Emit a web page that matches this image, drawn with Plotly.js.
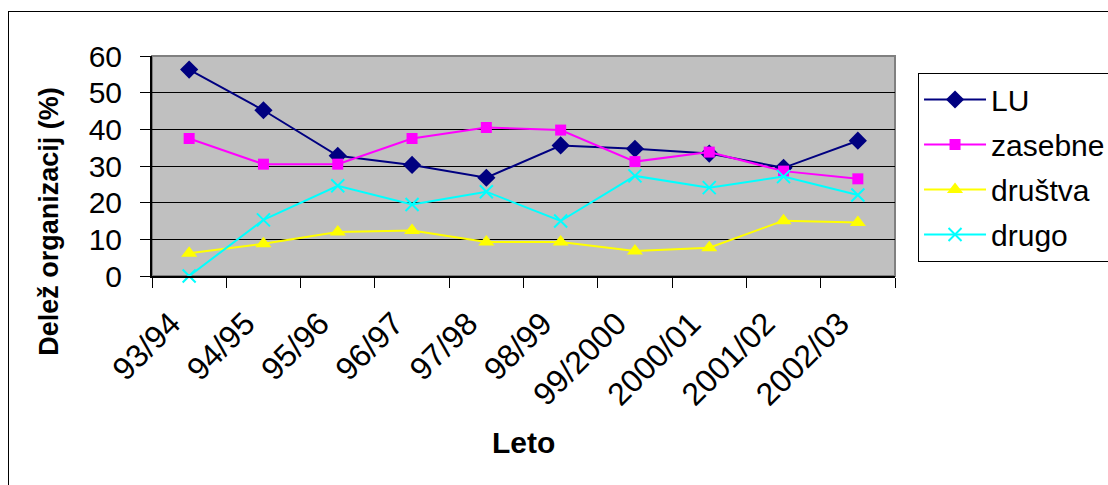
<!DOCTYPE html>
<html>
<head>
<meta charset="utf-8">
<script src="https://cdn.plot.ly/plotly-3.0.1.min.js"></script>
<style>
  html, body { margin: 0; padding: 0; width: 1108px; height: 485px; overflow: hidden; background: #fff; }
  #frame { position: absolute; left: 8px; top: 11px; width: 1300px; height: 700px; border: 1px solid #000; }
  #chart { position: absolute; left: 0; top: 0; width: 1108px; height: 485px; }
</style>
</head>
<body>
<div id="frame"></div>
<div id="chart"></div>
<script>
const categories = ['93/94','94/95','95/96','96/97','97/98','98/99','99/2000','2000/01','2001/02','2002/03'];
const LU = [56.3, 45.2, 32.8, 30.3, 26.8, 35.6, 34.7, 33.4, 29.5, 36.9];
const zasebne = [37.5, 30.5, 30.5, 37.5, 40.5, 39.8, 31.2, 33.8, 28.6, 26.5];
const drustva = [6.2, 8.8, 12.0, 12.4, 9.3, 9.3, 6.8, 7.7, 15.1, 14.6];
const drugo = [0, 15.3, 24.6, 19.5, 23.0, 15.0, 27.3, 24.1, 27.1, 22.1];
const seriesNames = ['LU', 'zasebne', 'društva', 'drugo'];
const yTitle = 'Delež organizacij (%)';
const xTitle = 'Leto';

const FONT = 'Liberation Sans, Arial, sans-serif';

const traces = [
  {x: categories, y: LU, name: seriesNames[0], legendgroup: 'a', type: 'scatter', mode: 'lines+markers', cliponaxis: false,
   line: {color: '#000080', width: 2}, marker: {symbol: 'diamond', size: 14, color: '#000080'}},
  {x: categories, y: zasebne, name: seriesNames[1], legendgroup: 'b', type: 'scatter', mode: 'lines+markers', cliponaxis: false,
   line: {color: '#FF00FF', width: 2}, marker: {symbol: 'square', size: 11, color: '#FF00FF'}},
  {x: categories, y: drustva, name: seriesNames[2], legendgroup: 'c', type: 'scatter', mode: 'lines+markers', cliponaxis: false,
   line: {color: '#FFFF00', width: 2}, marker: {symbol: 'triangle-up', size: 14, color: '#FFFF00'}},
  {x: categories, y: drugo, name: seriesNames[3], legendgroup: 'd', type: 'scatter', mode: 'lines+markers', cliponaxis: false,
   line: {color: '#00FFFF', width: 2}, marker: {symbol: 'x-thin-open', size: 13, color: '#00FFFF', line: {color: '#00FFFF', width: 2}}}
];

const layout = {
  width: 1108, height: 485,
  margin: {l: 152, r: 213, t: 56, b: 209, pad: 0, autoexpand: false},
  paper_bgcolor: 'rgba(0,0,0,0)',
  plot_bgcolor: '#C0C0C0',
  font: {family: FONT, size: 30, color: '#000'},
  showlegend: true,
  legend: {
    x: 1.031, xanchor: 'left', y: 0.925, yanchor: 'top',
    bgcolor: '#fff', bordercolor: '#000', borderwidth: 1,
    font: {family: FONT, size: 30, color: '#000'},
    tracegroupgap: 3, itemwidth: 62
  },
  xaxis: {
    type: 'category', range: [-0.5, 9.5], fixedrange: true,
    tickson: 'boundaries', ticks: 'outside', ticklen: 10, tickcolor: '#000', tickwidth: 1,
    tickangle: -45, ticklabelstandoff: 14, ticklabelshift: -18,
    tickfont: {family: FONT, size: 32, color: '#000'},
    showline: true, linecolor: '#000', linewidth: 2,
    showgrid: false, zeroline: false
  },
  yaxis: {
    range: [0, 60], dtick: 10, tick0: 0, fixedrange: true,
    ticks: 'outside', ticklen: 10, tickcolor: '#000', tickwidth: 1,
    ticklabelstandoff: 12,
    tickfont: {family: FONT, size: 30, color: '#000'},
    showline: true, linecolor: '#000', linewidth: 2,
    showgrid: true, gridcolor: '#000', gridwidth: 1, zeroline: false
  },
  shapes: [
    {type: 'rect', xref: 'paper', yref: 'paper', x0: 0, x1: 1, y0: 0, y1: 1,
     line: {color: '#808080', width: 2}, fillcolor: 'rgba(0,0,0,0)', layer: 'below'}
  ],
  annotations: [
    {text: '<b>' + yTitle + '</b>', xref: 'paper', yref: 'paper', x: -0.139, y: 0.25,
     xanchor: 'center', yanchor: 'middle', textangle: -90, showarrow: false,
     font: {family: FONT, size: 27, color: '#000'}},
    {text: '<b>' + xTitle + '</b>', xref: 'paper', yref: 'paper', x: 0.5, y: -0.759,
     xanchor: 'center', yanchor: 'middle', showarrow: false,
     font: {family: FONT, size: 30, color: '#000'}}
  ]
};

Plotly.newPlot('chart', traces, layout, {displayModeBar: false, staticPlot: true});
</script>
</body>
</html>
